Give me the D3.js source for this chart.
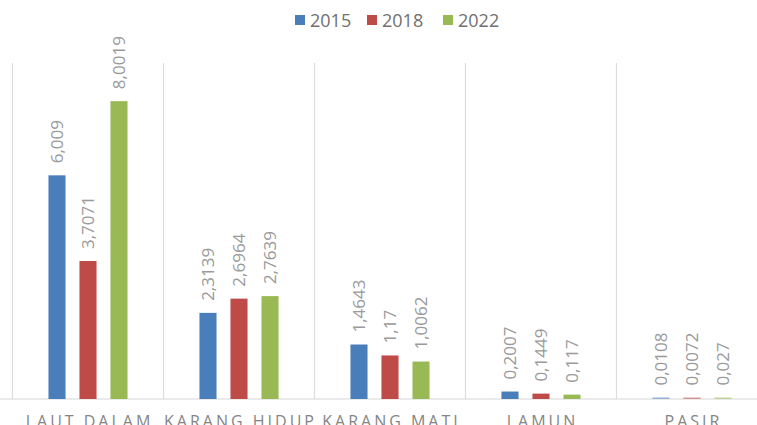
<!DOCTYPE html>
<html>
<head>
<meta charset="utf-8">
<script src="https://cdn.jsdelivr.net/npm/d3@7"></script>
<style>
  html, body { margin: 0; padding: 0; background: #fff; }
  svg { display: block; font-family: "Open Sans", "Liberation Sans", sans-serif; }
</style>
</head>
<body>
<svg id="chart" width="757" height="425"></svg>
<script>
const categories = ["LAUT DALAM", "KARANG HIDUP", "KARANG MATI", "LAMUN", "PASIR"];
const years = ["2015", "2018", "2022"];
const values2015 = [6.009, 2.3139, 1.4643, 0.2007, 0.0108];
const values2018 = [3.7071, 2.6964, 1.17, 0.1449, 0.0072];
const values2022 = [8.0019, 2.7639, 1.0062, 0.117, 0.027];
const labels2015 = ["6,009", "2,3139", "1,4643", "0,2007", "0,0108"];
const labels2018 = ["3,7071", "2,6964", "1,17", "0,1449", "0,0072"];
const labels2022 = ["8,0019", "2,7639", "1,0062", "0,117", "0,027"];
const colors = ["#4a7ebb", "#be4b48", "#98b954"];

const seriesValues = [values2015, values2018, values2022];
const seriesLabels = [labels2015, labels2018, labels2022];

const svg = d3.select("#chart");
const baseY = 399, topY = 64;

const x = d3.scaleBand().domain(categories).range([12.5, 767.5]).paddingInner(0).paddingOuter(0);
const xs = d3.scaleBand().domain(years).range([0, x.bandwidth()]).paddingInner(0.45).paddingOuter(1.16);
const y = d3.scaleLinear().domain([0, 9]).range([baseY, topY]);

// separators
const bounds = categories.map(c => x(c));
svg.append("g").selectAll("line").data(bounds).join("line")
  .attr("x1", d => d).attr("x2", d => d)
  .attr("y1", 63).attr("y2", baseY)
  .attr("stroke", "#dcdcdc").attr("stroke-width", 1.2);

// baseline
svg.append("line").attr("x1", 0).attr("x2", 757).attr("y1", baseY).attr("y2", baseY)
  .attr("stroke", "#d6d6d6").attr("stroke-width", 1.2);

// bars
const data = [];
categories.forEach((c, i) => {
  years.forEach((yr, j) => {
    data.push({ c, yr, j, v: seriesValues[j][i], label: seriesLabels[j][i] });
  });
});

svg.append("g").selectAll("rect").data(data).join("rect")
  .attr("x", d => x(d.c) + xs(d.yr))
  .attr("width", xs.bandwidth())
  .attr("y", d => Math.min(y(d.v), baseY - 1.5))
  .attr("height", d => Math.max(baseY - y(d.v), 1.5))
  .attr("fill", d => colors[d.j])
  .attr("fill-opacity", d => (baseY - y(d.v)) < 1.5 ? 0.55 : 1);

// data labels
svg.append("g").selectAll("text").data(data).join("text")
  .attr("transform", d => {
    const cx = x(d.c) + xs(d.yr) + xs.bandwidth() / 2;
    const ty = Math.min(y(d.v), baseY - 1.5) - 12;
    return `translate(${cx},${ty}) rotate(-90)`;
  })
  .attr("dy", "0.36em")
  .attr("text-anchor", "start")
  .attr("font-size", 17)
  .attr("fill", "#9a9a9a")
  .text(d => d.label);

// category labels
svg.append("g").selectAll("text").data(categories).join("text")
  .attr("x", d => x(d) + x.bandwidth() / 2 + 1.5)
  .attr("y", 427)
  .attr("text-anchor", "middle")
  .attr("font-size", 16)
  .attr("letter-spacing", 3)
  .attr("fill", "#858585")
  .text(d => d);

// legend
const legendX = [295, 367, 443];
const lg = svg.append("g").selectAll("g").data(years).join("g")
  .attr("transform", (d, i) => `translate(${legendX[i]},15)`);
lg.append("rect").attr("width", 10).attr("height", 10).attr("fill", (d, i) => colors[i]);
lg.append("text").attr("x", 15).attr("y", 11.5)
  .attr("font-size", 18).attr("fill", "#707070").text(d => d);
</script>
</body>
</html>
